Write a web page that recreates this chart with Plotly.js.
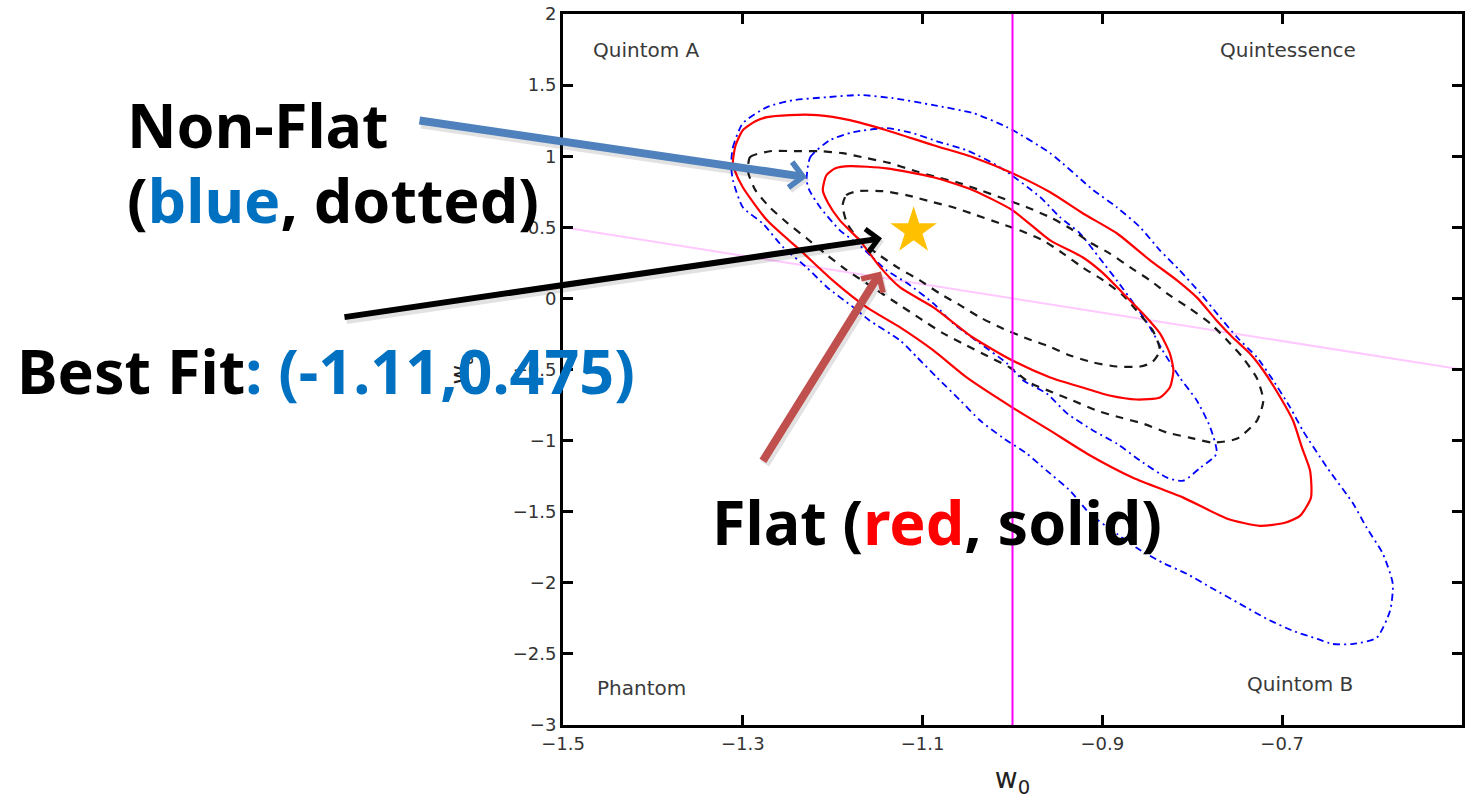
<!DOCTYPE html>
<html>
<head>
<meta charset="utf-8">
<script src="https://cdn.plot.ly/plotly-3.0.1.min.js"></script>
<style>
  html, body { margin: 0; padding: 0; background: #ffffff; }
  #chart { width: 1479px; height: 809px; }
</style>
</head>
<body>
<div id="chart"></div>
<script>
// Confidence contours in the (w0, wa) plane

// Flat model (red, solid)
const flatInnerW0 = [-1.211,-1.207,-1.197,-1.181,-1.140,-1.088,-1.044,-1.000,-0.958,-0.922,-0.899,-0.877,-0.855,-0.836,-0.825,-0.821,-0.825,-0.836,-0.862,-0.892,-0.922,-0.958,-1.000,-1.044,-1.088,-1.125,-1.147,-1.170,-1.192,-1.205,-1.211];
const flatInnerWa = [0.761,0.866,0.915,0.930,0.915,0.852,0.761,0.620,0.408,0.289,0.176,0.035,-0.106,-0.246,-0.387,-0.507,-0.627,-0.697,-0.711,-0.683,-0.627,-0.556,-0.437,-0.275,-0.063,0.077,0.218,0.408,0.549,0.669,0.761];
const flatOuterW0 = [-1.311,-1.308,-1.300,-1.286,-1.273,-1.248,-1.217,-1.181,-1.140,-1.088,-1.044,-1.000,-0.958,-0.922,-0.884,-0.847,-0.817,-0.795,-0.773,-0.755,-0.736,-0.721,-0.702,-0.688,-0.678,-0.669,-0.668,-0.680,-0.697,-0.725,-0.761,-0.810,-0.866,-0.917,-0.958,-1.000,-1.051,-1.088,-1.125,-1.162,-1.200,-1.236,-1.273,-1.300,-1.309,-1.311];
const flatOuterWa = [0.958,1.077,1.183,1.246,1.275,1.289,1.289,1.254,1.183,1.077,0.993,0.880,0.746,0.599,0.458,0.268,0.127,0.007,-0.155,-0.275,-0.387,-0.507,-0.697,-0.859,-1.049,-1.211,-1.401,-1.528,-1.578,-1.599,-1.549,-1.401,-1.261,-1.092,-0.930,-0.768,-0.556,-0.366,-0.204,-0.063,0.127,0.338,0.549,0.782,0.901,0.958];

// Non-flat model (blue, dash-dot)
const nonFlatInnerW0 = [-1.229,-1.225,-1.203,-1.177,-1.140,-1.111,-1.081,-1.051,-1.014,-0.969,-0.947,-0.925,-0.903,-0.884,-0.862,-0.847,-0.833,-0.814,-0.795,-0.780,-0.773,-0.791,-0.810,-0.828,-0.858,-0.884,-0.910,-0.939,-0.962,-0.988,-1.006,-1.036,-1.066,-1.088,-1.117,-1.140,-1.170,-1.192,-1.214,-1.226,-1.229];
const nonFlatInnerWa = [0.831,0.993,1.113,1.169,1.197,1.162,1.099,1.042,0.923,0.711,0.570,0.458,0.282,0.127,-0.063,-0.204,-0.366,-0.556,-0.718,-0.908,-1.092,-1.190,-1.282,-1.261,-1.141,-1.021,-0.930,-0.810,-0.669,-0.577,-0.458,-0.317,-0.176,-0.035,0.106,0.197,0.373,0.479,0.641,0.761,0.831];
const nonFlatOuterW0 = [-1.313,-1.311,-1.300,-1.273,-1.244,-1.206,-1.170,-1.133,-1.088,-1.044,-1.006,-0.958,-0.910,-0.884,-0.858,-0.836,-0.814,-0.791,-0.769,-0.750,-0.728,-0.710,-0.691,-0.677,-0.650,-0.621,-0.606,-0.588,-0.577,-0.580,-0.595,-0.621,-0.644,-0.661,-0.688,-0.717,-0.747,-0.777,-0.806,-0.833,-0.862,-0.884,-0.914,-0.936,-0.962,-0.984,-1.011,-1.036,-1.058,-1.084,-1.106,-1.125,-1.159,-1.177,-1.206,-1.229,-1.255,-1.278,-1.300,-1.311,-1.313];
const nonFlatOuterWa = [0.937,1.063,1.232,1.345,1.394,1.415,1.430,1.408,1.359,1.303,1.204,1.021,0.761,0.641,0.500,0.338,0.197,0.035,-0.134,-0.275,-0.415,-0.577,-0.768,-0.930,-1.190,-1.444,-1.613,-1.796,-2.007,-2.197,-2.387,-2.430,-2.430,-2.394,-2.338,-2.254,-2.148,-2.042,-1.937,-1.859,-1.754,-1.655,-1.514,-1.352,-1.211,-1.092,-0.979,-0.859,-0.718,-0.556,-0.415,-0.296,-0.155,-0.063,0.077,0.218,0.359,0.528,0.641,0.831,0.937];

// Third set (black, dashed)
const dashedInnerW0 = [-1.189,-1.185,-1.173,-1.144,-1.117,-1.088,-1.066,-1.040,-1.014,-0.992,-0.966,-0.944,-0.922,-0.899,-0.877,-0.862,-0.844,-0.836,-0.845,-0.858,-0.884,-0.910,-0.936,-0.962,-0.984,-1.011,-1.036,-1.058,-1.081,-1.103,-1.128,-1.151,-1.170,-1.184,-1.189];
const dashedInnerWa = [0.655,0.725,0.754,0.754,0.725,0.676,0.641,0.585,0.528,0.479,0.408,0.317,0.218,0.127,0.021,-0.085,-0.225,-0.366,-0.451,-0.479,-0.479,-0.451,-0.401,-0.331,-0.282,-0.211,-0.134,-0.049,0.035,0.127,0.218,0.317,0.408,0.528,0.655];
const dashedOuterW0 = [-1.294,-1.292,-1.270,-1.240,-1.214,-1.189,-1.162,-1.136,-1.111,-1.084,-1.062,-1.036,-1.011,-0.984,-0.958,-0.936,-0.914,-0.892,-0.869,-0.847,-0.825,-0.803,-0.780,-0.761,-0.744,-0.728,-0.721,-0.728,-0.750,-0.777,-0.803,-0.828,-0.855,-0.880,-0.906,-0.933,-0.955,-0.981,-1.003,-1.025,-1.051,-1.077,-1.103,-1.125,-1.159,-1.184,-1.206,-1.229,-1.250,-1.270,-1.286,-1.294];
const dashedOuterWa = [0.887,0.993,1.035,1.035,1.035,1.021,0.986,0.951,0.901,0.852,0.817,0.761,0.704,0.641,0.570,0.493,0.394,0.317,0.218,0.127,0.021,-0.070,-0.176,-0.296,-0.415,-0.563,-0.718,-0.859,-0.986,-1.014,-0.979,-0.944,-0.880,-0.838,-0.789,-0.718,-0.662,-0.592,-0.486,-0.415,-0.331,-0.246,-0.141,-0.049,0.092,0.197,0.303,0.423,0.528,0.641,0.761,0.887];

// Reference lines: w0 = -1 and w0 + wa = -1
const cosmoConstW0 = [-1, -1];
const cosmoConstWa = [-3, 2];
const phantomDivideW0 = [-1.5, -0.5];
const phantomDivideWa = [0.5, -0.5];

// Best-fit point
const bestFitW0 = [-1.11];
const bestFitWa = [0.475];

// Axis ticks
const xTickVals = [-1.5, -1.3, -1.1, -0.9, -0.7, -0.5];
const xTickText = ['\u22121.5', '\u22121.3', '\u22121.1', '\u22120.9', '\u22120.7', '\u22120.5'];
const yTickVals = [2, 1.5, 1, 0.5, 0, -0.5, -1, -1.5, -2, -2.5, -3];
const yTickText = ['2', '1.5', '1', '0.5', '0', '\u22120.5', '\u22121', '\u22121.5', '\u22122', '\u22122.5', '\u22123'];

// Region names
const regionNames = ['Quintom A', 'Quintessence', 'Phantom', 'Quintom B'];
const regionW0 = [-1.407, -0.694, -1.413, -0.680];
const regionWa = [1.746, 1.746, -2.739, -2.711];

const RED = '#ff0000', BLUE = '#0000ff', DARK = '#1a1a1a';

function contour(x, y, color, width, dash) {
  return {
    x: x, y: y, type: 'scatter', mode: 'lines', hoverinfo: 'skip',
    line: { color: color, width: width, dash: dash, shape: 'spline', smoothing: 0.6 }
  };
}

const traces = [
  { x: phantomDivideW0, y: phantomDivideWa, type: 'scatter', mode: 'lines',
    line: { color: '#ffc8ff', width: 2 } },
  contour(nonFlatOuterW0, nonFlatOuterWa, BLUE, 1.8, '7px,4px,2px,4px'),
  contour(nonFlatInnerW0, nonFlatInnerWa, BLUE, 1.8, '7px,4px,2px,4px'),
  contour(dashedOuterW0, dashedOuterWa, DARK, 2.2, '8px,7px'),
  contour(dashedInnerW0, dashedInnerWa, DARK, 2.2, '8px,7px'),
  contour(flatOuterW0, flatOuterWa, RED, 2.2, 'solid'),
  contour(flatInnerW0, flatInnerWa, RED, 2.2, 'solid'),
  { x: cosmoConstW0, y: cosmoConstWa, type: 'scatter', mode: 'lines',
    line: { color: '#ff00ff', width: 2 } },
  { x: bestFitW0, y: bestFitWa, type: 'scatter', mode: 'markers',
    marker: { symbol: 'star', size: 35, color: '#ffc000', line: { width: 0 } } }
];

const tickFont = { family: 'DejaVu Sans, Arial, sans-serif', size: 18, color: '#333333' };
const bigFont = { family: 'Noto Sans, Arial, sans-serif', size: 61, color: '#000000' };
const TXT_BLUE = '#0070c0';

const annotations = [];

// Region names inside the frame
regionNames.forEach(function (name, i) {
  annotations.push({
    x: regionW0[i], y: regionWa[i], xref: 'x', yref: 'y', text: name, showarrow: false,
    font: { family: 'DejaVu Sans, Arial, sans-serif', size: 20, color: '#3a3a3a' }
  });
});

// Pointer arrows (soft shadow first, then the arrow itself)
function pointer(hx, hy, ax, ay, color, width, size) {
  annotations.push({
    x: hx, y: hy, xref: 'x', yref: 'y', ax: ax, ay: ay, text: '', showarrow: true,
    xshift: 2, yshift: -3,
    arrowcolor: 'rgba(0,0,0,0.11)', arrowwidth: width + 2, arrowhead: 4, arrowsize: size * width / (width + 2), standoff: 0
  });
  annotations.push({
    x: hx, y: hy, xref: 'x', yref: 'y', ax: ax, ay: ay, text: '', showarrow: true,
    arrowcolor: color, arrowwidth: width, arrowhead: 4, arrowsize: size, standoff: 0
  });
}
pointer(-1.2286, 0.852, -389, -57, '#4f81bd', 8, 0.62);
pointer(-1.1452, 0.4225, -539, 79, '#000000', 6, 0.75);
pointer(-1.1463, 0.190, -119, 191, '#c0504d', 8, 0.62);

// Callout texts
function callout(px, py, html) {
  annotations.push({
    x: px, y: py, xref: 'paper', yref: 'paper', xanchor: 'left', yanchor: 'middle',
    text: html, showarrow: false, font: bigFont, align: 'left'
  });
}
callout(-0.4872, 0.8439, '<b>Non-Flat</b>');
callout(-0.4872, 0.7384, '<b>(<span style="color:' + TXT_BLUE + '">blue</span>, dotted)</b>');
callout(-0.6096, 0.4979, '<b>Best Fit<span style="color:' + TXT_BLUE + '">: (-1.11,0.475)</span></b>');
callout(0.1635, 0.2869, '<b>Flat (<span style="color:#ff0000">red</span>, solid)</b>');

const layout = {
  width: 1479, height: 809,
  margin: { l: 563, r: 17, t: 14, b: 84, pad: 0 },
  paper_bgcolor: '#ffffff', plot_bgcolor: '#ffffff',
  showlegend: false,
  xaxis: {
    range: [-1.5, -0.5], tickvals: xTickVals, ticktext: xTickText,
    ticks: 'inside', ticklen: 10, tickwidth: 3, tickcolor: '#000',
    showline: true, linecolor: '#000', linewidth: 3, mirror: 'ticks',
    showgrid: false, zeroline: false, tickfont: tickFont,
    title: { text: 'w<sub>0</sub>', font: { family: 'DejaVu Sans, Arial, sans-serif', size: 28, color: '#222' }, standoff: 16 }
  },
  yaxis: {
    range: [-3, 2], tickvals: yTickVals, ticktext: yTickText,
    ticks: 'inside', ticklen: 10, tickwidth: 3, tickcolor: '#000',
    showline: true, linecolor: '#000', linewidth: 3, mirror: 'ticks',
    showgrid: false, zeroline: false, tickfont: tickFont,
    title: { text: 'w<sub>a</sub>', font: { family: 'DejaVu Sans, Arial, sans-serif', size: 24, color: '#222' }, standoff: 38 }
  },
  annotations: annotations
};

Plotly.newPlot('chart', traces, layout, { displayModeBar: false, staticPlot: true });
</script>
</body>
</html>
